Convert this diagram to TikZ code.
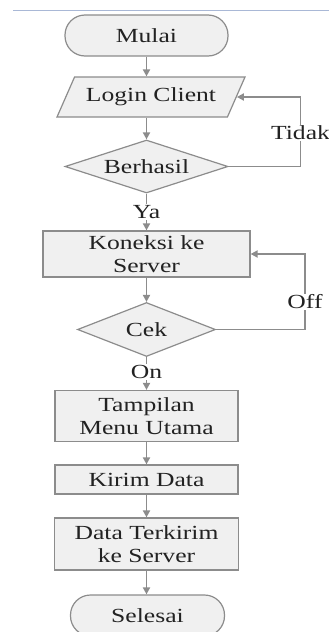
\documentclass[tikz,border=0pt]{standalone}
\usepackage{fontspec}
\setmainfont{Liberation Serif}[FakeStretch=1.28]
\usetikzlibrary{shapes.geometric,arrows.meta}
\definecolor{edge}{HTML}{8C8C8C}
\definecolor{boxfill}{HTML}{F0F0F0}
\definecolor{ink}{HTML}{222222}
\definecolor{topline}{HTML}{A9B8D6}
\tikzset{
  base/.style={draw=edge, line width=1.2pt, fill=boxfill, text=ink, align=center,
    inner sep=0pt, font=\fontsize{20}{22.5}\selectfont},
  term/.style={base, rectangle, rounded corners=20pt},
  proc/.style={base, rectangle},
  io/.style={base, trapezium, trapezium left angle=46, trapezium right angle=134,
    trapezium stretches body},
  decision/.style={base, diamond, aspect=3},
  flow/.style={draw=edge, line width=1.8pt, -{Triangle[length=7pt,width=7pt]}},
  line/.style={draw=edge, line width=1.8pt},
  lbl/.style={fill=white, text=ink, inner sep=1pt, font=\fontsize{20}{22}\selectfont}
}
\begin{document}
\begin{tikzpicture}[x=1pt,y=-1pt]
\useasboundingbox (0,0) rectangle (329,632);
\clip (0,0) rectangle (329,632);
\draw[topline, line width=1pt] (13,10) -- (329,10);
\node[term, minimum width=163pt, minimum height=41pt] (mulai) at (146.5,35.5) {Mulai};
\node[io, minimum width=188pt, minimum height=40pt] (login) at (151,97) {Login Client};
\node[decision, minimum width=163pt, minimum height=53pt] (berhasil) at (146.5,166.5) {Berhasil};
\node[proc, minimum width=207pt, minimum height=46pt] (koneksi) at (146.5,254) {Koneksi ke\\Server};
\node[decision, minimum width=138pt, minimum height=54pt] (cek) at (146.5,329.5) {Cek};
\node[proc, minimum width=183pt, minimum height=51pt] (tampilan) at (146.5,416) {Tampilan\\Menu Utama};
\node[proc, minimum width=183pt, minimum height=29pt] (kirim) at (146.5,479.5) {Kirim Data};
\node[proc, minimum width=184pt, minimum height=52pt] (data) at (146.5,544) {Data Terkirim\\ke Server};
\node[term, minimum width=154pt, minimum height=41pt] (selesai) at (147.5,615.5) {Selesai};

\coordinate (tR) at (300.5,0);
\coordinate (oR) at (305,0);

\draw[flow] (mulai.south) -- (mulai.south |- login.north);
\draw[flow] (berhasil.north |- login.south) -- (berhasil.north);
\draw[flow] (berhasil.south) -- (koneksi.north)
  node[lbl, pos=0.5] {Ya};
\draw[line] (berhasil.east) -- (berhasil.east -| tR);
\draw[flow] (berhasil.east -| tR) -- (login.east -| tR) -- (login.east);
\node[lbl] (tidak) at (300.5,133) {Tidak};
\draw[flow] (koneksi) -- (cek);
\draw[line] (cek.east) -- (cek.east -| oR);
\draw[flow] (cek.east -| oR) -- (koneksi.east -| oR) -- (koneksi.east);
\node[lbl] (off) at (305,302) {Off};
\draw[flow] (cek.south) -- (tampilan.north)
  node[lbl, pos=0.45] {On};
\draw[flow] (tampilan) -- (kirim);
\draw[flow] (kirim) -- (data);
\draw[flow] (data.south) -- (data.south |- selesai.north);
\end{tikzpicture}
\end{document}
